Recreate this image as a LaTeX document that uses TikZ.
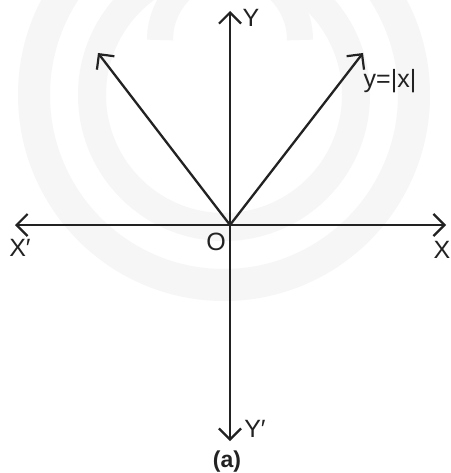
\documentclass[tikz,border=0pt]{standalone}
\usepackage{fontspec}
\setmainfont{Liberation Sans}
\usetikzlibrary{arrows.meta}
\definecolor{ink}{HTML}{222222}
\definecolor{wm}{HTML}{F6F6F6}
\begin{document}
\begin{tikzpicture}[x=1pt,y=-1pt,
  axis/.style={draw=ink,line width=2.3pt,-{Straight Barb[length=11pt,width=22pt,line width=2.2pt]}},
  lbl/.style={text=ink,font=\fontsize{25}{27}\selectfont,inner sep=0pt},
  wmring/.style={draw=wm,line width=32pt}]
\useasboundingbox (0,0) rectangle (450,473);
\fill[white] (0,0) rectangle (450,473);
% faint watermark
\begin{scope}
\clip (0,0) rectangle (450,473);
\draw[wmring] (224,95) circle (190);
\draw[wmring,line width=28pt] (224,95) circle (132);
\draw[wm,line width=26pt] (300,40) arc (0:-180:70);
\end{scope}
% points
\coordinate (O) at (230,225);
\coordinate (Yt) at (230,11);
\coordinate (Yb) at (230,441);
\coordinate (Xl) at (15,225);
\coordinate (Xr) at (446,225);
\coordinate (Lt) at (98,53);
\coordinate (Rt) at (363,53);
% axes and graph
\draw[axis] (O) -- (Yt);
\draw[axis] (O) -- (Yb);
\draw[axis] (O) -- (Xl);
\draw[axis] (O) -- (Xr);
\draw[axis] (O) -- (Lt);
\draw[axis] (O) -- (Rt);
% labels
\node[lbl] (lY) at (251,17.5) {Y};
\node[lbl] (lf) at (390,81) {y=|x|};
\node[lbl] (lXp) at (20,248) {X′};
\node[lbl] (lO) at (216,242) {O};
\node[lbl] (lX) at (442,250) {X};
\node[lbl] (lYp) at (255,429) {Y′};
\node[lbl,font=\fontsize{23}{25}\selectfont\bfseries] (la) at (227,462) {(a)};
\end{tikzpicture}
\end{document}
